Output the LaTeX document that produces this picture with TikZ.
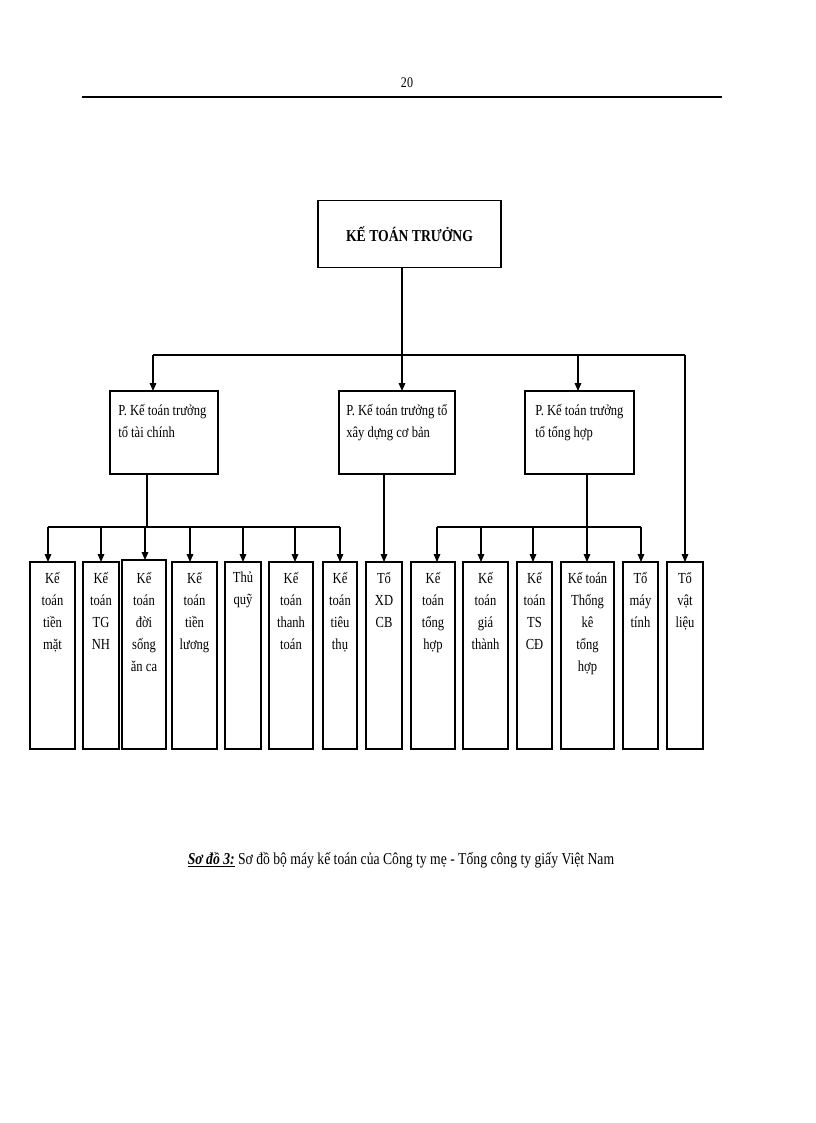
\documentclass[tikz,border=0pt]{standalone}
\usepackage{fontspec}
\setmainfont{Liberation Serif}[FakeStretch=0.82]
\usetikzlibrary{arrows.meta}
\begin{document}
\begin{tikzpicture}[x=0.75pt,y=-0.75pt,
  bx/.style={draw,line width=1pt},
  arr/.style={-{Triangle[length=6pt,width=5pt]},line width=0.8pt},
  ln/.style={line width=0.8pt},
  txt/.style={anchor=north,align=center,font=\fontsize{11.5}{16.5}\selectfont,inner sep=0pt}]
\useasboundingbox (0,0) rectangle (816,1123);
\node at (407,83) {\fontsize{11}{13}\selectfont 20};
\draw[line width=2pt] (82,97) -- (722,97);
% top
\node[bx,minimum width=183*0.75pt,minimum height=67*0.75pt,font=\bfseries\fontsize{12.5}{14}\selectfont] (top) at (409.5,234) {KẾ TOÁN TRƯỞNG};
\node[bx,minimum width=108*0.75pt,minimum height=83*0.75pt] (m1) at (164,432.5) {};
\node[bx,minimum width=116*0.75pt,minimum height=83*0.75pt] (m2) at (397,432.5) {};
\node[bx,minimum width=109*0.75pt,minimum height=83*0.75pt] (m3) at (579.5,432.5) {};
\node[txt,align=left,anchor=north west] at (118,404) {P. Kế toán trưởng\\tổ tài chính};
\node[txt,align=left,anchor=north west] at (346,404) {P. Kế toán trưởng tổ\\xây dựng cơ bản};
\node[txt,align=left,anchor=north west] at (535,404) {P. Kế toán trưởng\\tổ tổng hợp};
\coordinate (h0) at (402,355);
\draw[ln] (top.south -| h0) -- (h0);
\coordinate (hl) at (153,355);
\coordinate (hr) at (685,355);
\draw[ln] (hl) -- (hr);
\draw[arr] (hl) -- (153,391);
\draw[arr] (h0) -- (402,391);
\draw[arr] (578,355) -- (578,391);
% bottom boxes
\foreach \n/\l/\r/\t/\c/\s in {
 b1/30/75/562/48/{Kế\\toán\\tiền\\mặt},
 b2/83/119/562/101/{Kế\\toán\\TG\\NH},
 b3/122/166/560/145/{Kế\\toán\\đời\\sống\\ăn ca},
 b4/172/217/562/190/{Kế\\toán\\tiền\\lương},
 b5/225/261/562/243/{Thủ\\quỹ},
 b6/269/313/562/295/{Kế\\toán\\thanh\\toán},
 b7/323/357/562/340/{Kế\\toán\\tiêu\\thụ},
 b8/366/402/562/384/{Tổ\\XD\\CB},
 b9/411/455/562/437/{Kế\\toán\\tổng\\hợp},
 b10/463/508/562/481/{Kế\\toán\\giá\\thành},
 b11/517/552/562/533/{Kế\\toán\\TS\\CĐ},
 b12/561/614/562/587/{Kế toán\\Thống\\kê\\tổng\\hợp},
 b13/623/658/562/641/{Tổ\\máy\\tính},
 b14/667/703/562/685/{Tổ\\vật\\liệu}}{
 \draw[bx] (\l,\t) rectangle (\r,749);
 \coordinate (\n) at (\c,\t);
 \node[txt] at ({(\l+\r)/2},572) {\s};
}
% left branch
\draw[ln] (m1.south -| 147,0) -- (147,527);
\draw[ln] (48,527) -- (340,527);
\foreach \b in {b1,b2,b3,b4,b5,b6,b7}{\draw[arr] (\b |- 0,527) -- (\b);}
\draw[arr] (m2.south -| b8) -- (b8);
\draw[ln] (m3.south -| 587,0) -- (587,527);
\draw[ln] (437,527) -- (641,527);
\foreach \b in {b9,b10,b11,b12,b13}{\draw[arr] (\b |- 0,527) -- (\b);}
\draw[arr] (hr) -- (b14);
\node[font=\fontsize{12.5}{14}\selectfont] (cap) at (401,860) {\textbf{\textit{\underline{Sơ đồ 3:}}} Sơ đồ bộ máy kế toán của Công ty mẹ - Tổng công ty giấy Việt Nam};
\end{tikzpicture}
\end{document}
